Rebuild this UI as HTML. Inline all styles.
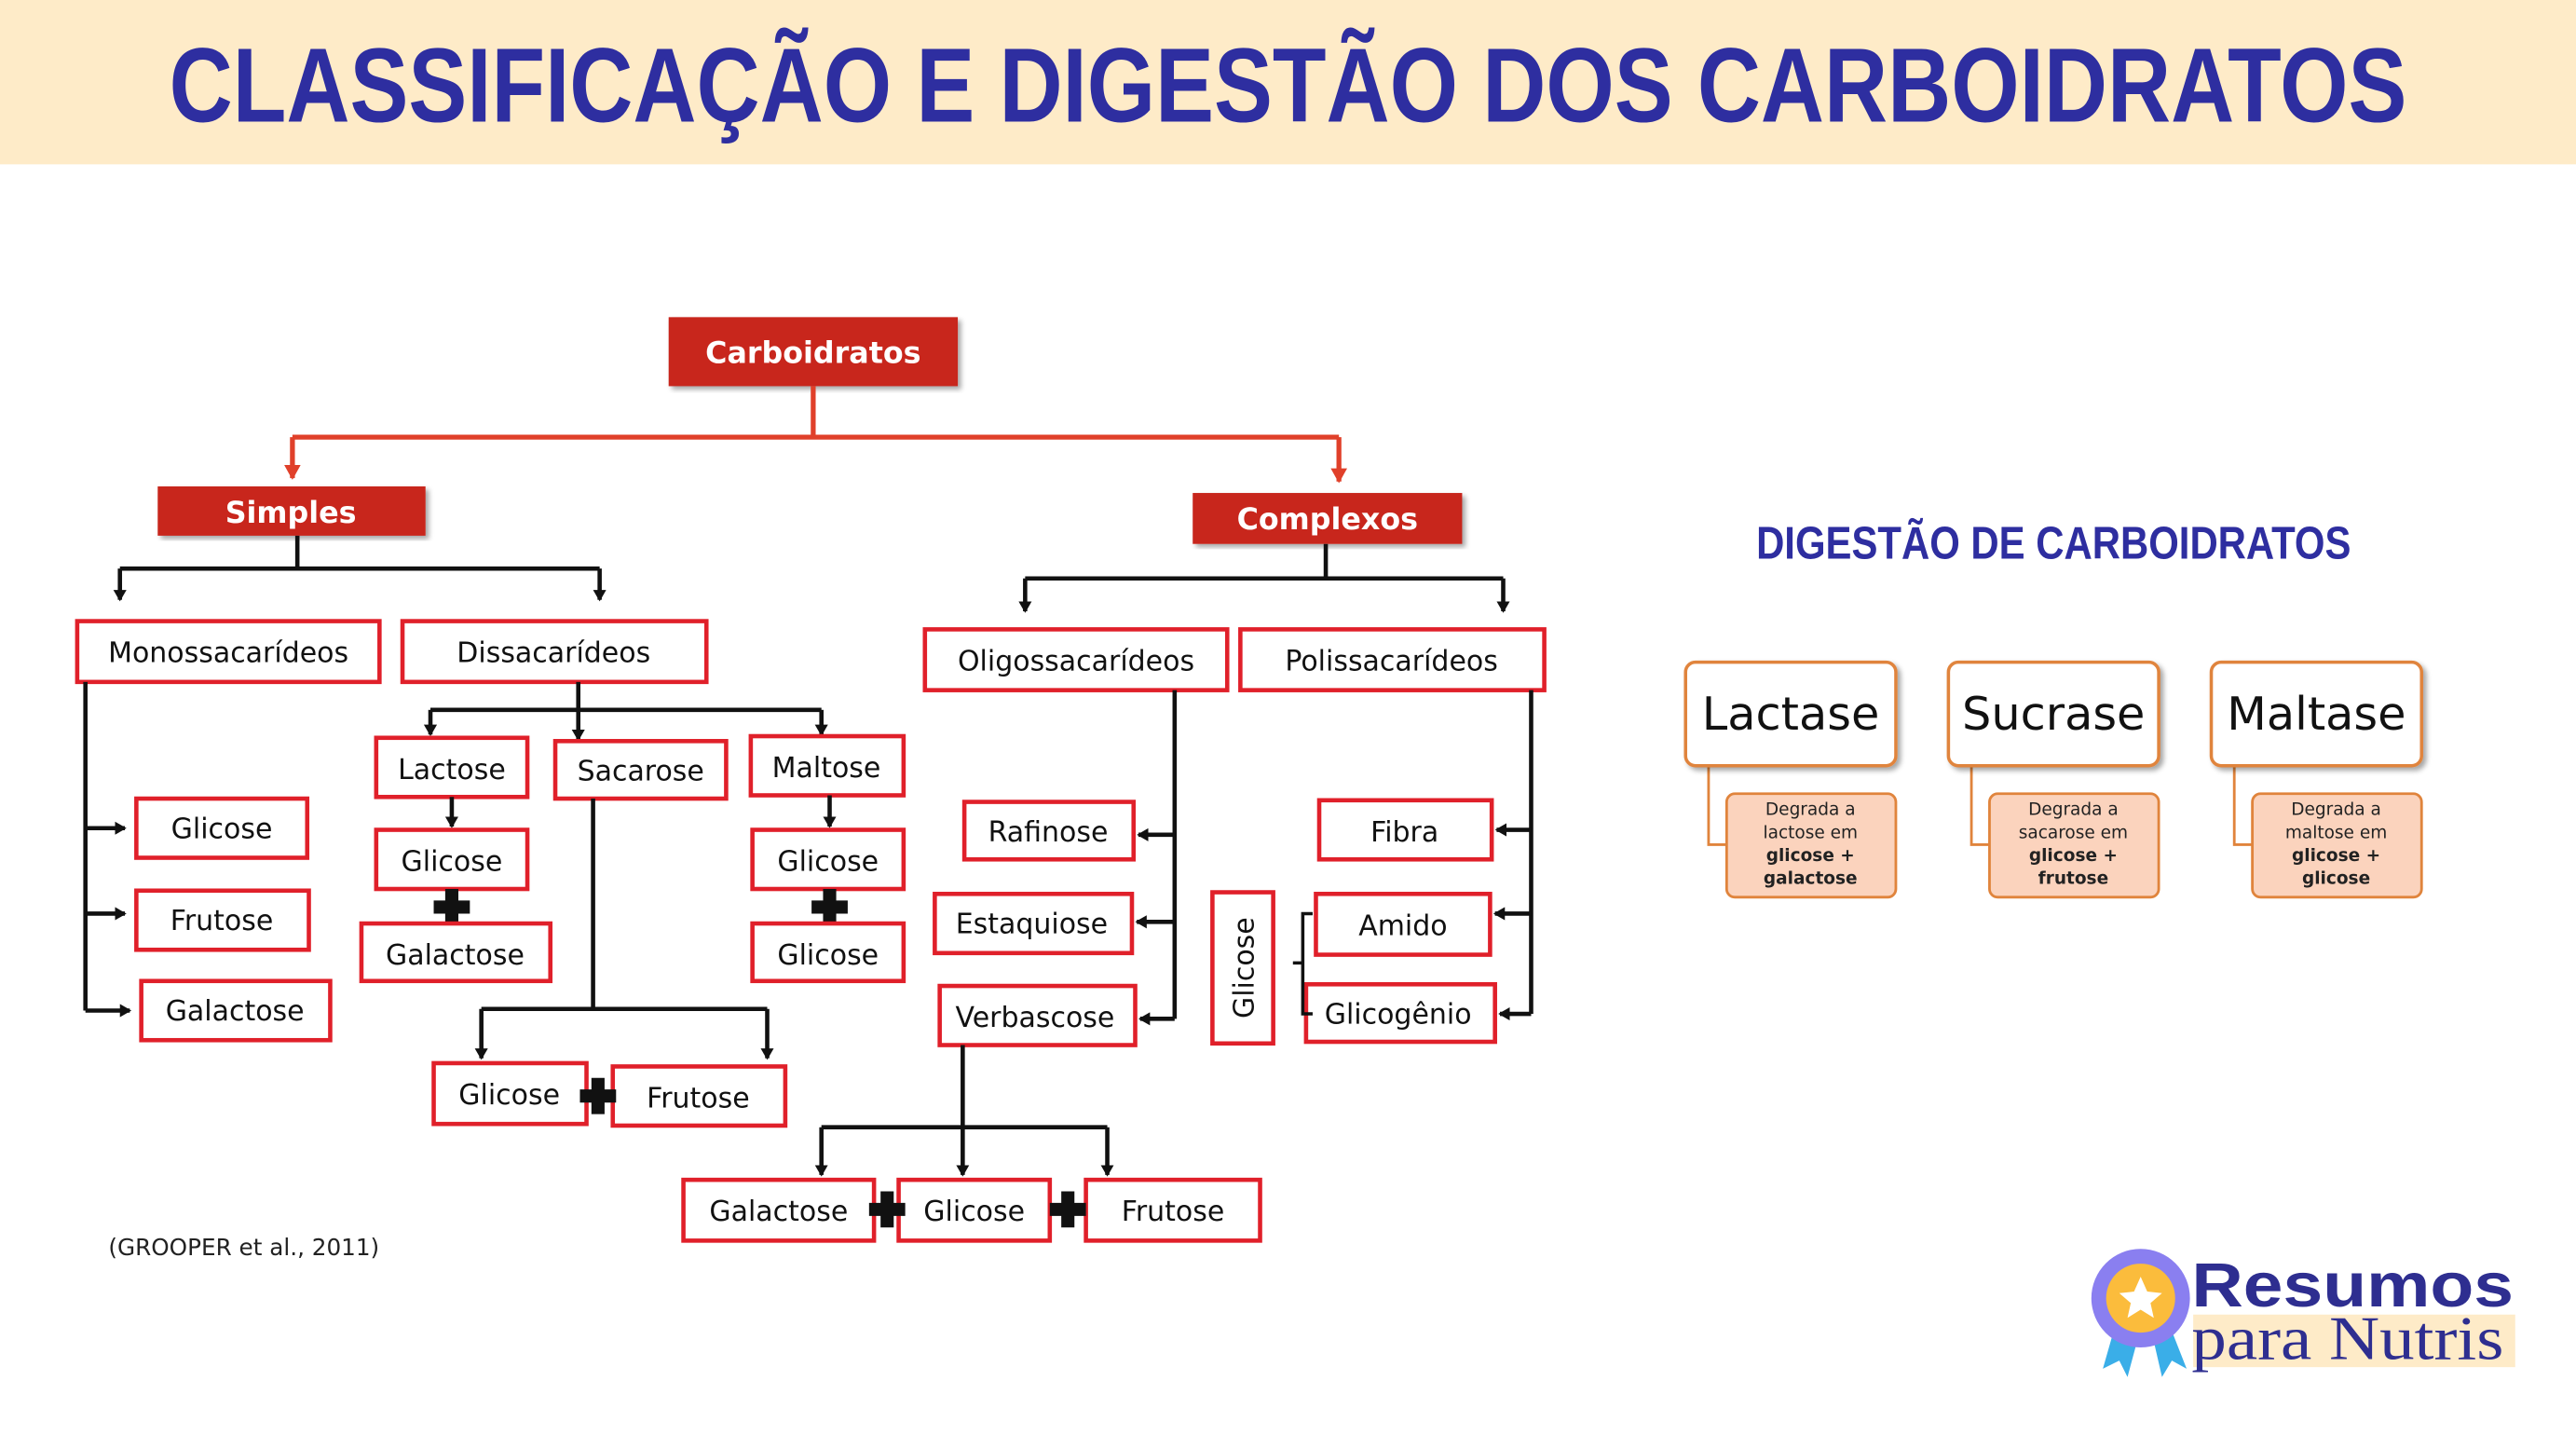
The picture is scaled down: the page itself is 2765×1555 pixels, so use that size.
<!DOCTYPE html>
<html><head><meta charset="utf-8"><style>
html,body{margin:0;padding:0;background:#fff;width:2765px;height:1555px;overflow:hidden}
svg{display:block}
.b{fill:#fff;stroke:#e0202a;stroke-width:2.6}
.t{font-family:"DejaVu Sans","Liberation Sans",sans-serif;font-size:17px;fill:#111;text-anchor:middle}
.r{fill:#c8281e}
.rt{font-family:"DejaVu Sans","Liberation Sans",sans-serif;font-size:18px;font-weight:bold;fill:#fff;text-anchor:middle}
.k{stroke:#111;stroke-width:2.6;fill:none}
.e{fill:#fff;stroke:#e0843c;stroke-width:2}
.s{fill:#fbd3bd;stroke:#e0843c;stroke-width:1.6}
.et{font-family:"DejaVu Sans","Liberation Sans",sans-serif;font-size:28px;fill:#111;text-anchor:middle}
.st{font-family:"DejaVu Sans","Liberation Sans",sans-serif;font-size:10.5px;fill:#222;text-anchor:middle}
.sb{font-weight:bold}
</style></head><body>
<svg width="2765" height="1555" viewBox="0 0 1568 881.8" xmlns="http://www.w3.org/2000/svg">
<defs>
<marker id="a" markerWidth="8" markerHeight="8" refX="6" refY="4" orient="auto" markerUnits="userSpaceOnUse"><path d="M0,0 L7,4 L0,8 Z" fill="#111"/></marker>
<marker id="ar" markerWidth="10" markerHeight="10" refX="8" refY="5" orient="auto" markerUnits="userSpaceOnUse"><path d="M0,0 L9,5 L0,10 Z" fill="#e0402a"/></marker>
<filter id="sh"><feDropShadow dx="2" dy="2" stdDeviation="1.5" flood-opacity="0.35"/></filter>
</defs>
<rect x="0" y="0" width="1568" height="100" fill="#feebc8"/>
<text x="784" y="74" font-family="'Liberation Sans Narrow','Liberation Sans',sans-serif" font-weight="bold" font-size="64" fill="#2e2ea0" text-anchor="middle" textLength="1362" lengthAdjust="spacingAndGlyphs">CLASSIFICAÇÃO E DIGESTÃO DOS CARBOIDRATOS</text>

<!-- red top -->
<rect class="r" x="407" y="193" width="176" height="42" filter="url(#sh)"/>
<text class="rt" x="495" y="221">Carboidratos</text>
<path d="M495,235 V266 M178,266 H815" stroke="#e0402a" stroke-width="3" fill="none"/>
<path d="M178,266 V291" stroke="#e0402a" stroke-width="3" marker-end="url(#ar)"/>
<path d="M815,266 V293" stroke="#e0402a" stroke-width="3" marker-end="url(#ar)"/>
<rect class="r" x="96" y="296" width="163" height="30" filter="url(#sh)"/>
<text class="rt" x="177" y="318">Simples</text>
<rect class="r" x="726" y="300" width="164" height="31" filter="url(#sh)"/>
<text class="rt" x="808" y="322">Complexos</text>

<!-- simples branch -->
<path class="k" d="M181,326 V346 M73,346 H365"/>
<path class="k" d="M73,346 V365" marker-end="url(#a)"/>
<path class="k" d="M365,346 V365" marker-end="url(#a)"/>
<rect class="b" x="47" y="378" width="184" height="37"/><text class="t" x="139" y="403">Monossacarídeos</text>
<rect class="b" x="245" y="378" width="185" height="37"/><text class="t" x="337" y="403">Dissacarídeos</text>

<path class="k" d="M52,415 V615"/>
<path class="k" d="M52,504 H76" marker-end="url(#a)"/>
<path class="k" d="M52,556 H76" marker-end="url(#a)"/>
<path class="k" d="M52,615 H79" marker-end="url(#a)"/>
<rect class="b" x="83" y="486" width="104" height="36"/><text class="t" x="135" y="510">Glicose</text>
<rect class="b" x="83" y="542" width="105" height="36"/><text class="t" x="135" y="566">Frutose</text>
<rect class="b" x="86" y="597" width="115" height="36"/><text class="t" x="143" y="621">Galactose</text>

<path class="k" d="M352,415 V432 M262,432 H500"/>
<path class="k" d="M262,432 V447" marker-end="url(#a)"/>
<path class="k" d="M352,432 V450" marker-end="url(#a)"/>
<path class="k" d="M500,432 V447" marker-end="url(#a)"/>
<rect class="b" x="229" y="449" width="92" height="36"/><text class="t" x="275" y="474">Lactose</text>
<rect class="b" x="338" y="451" width="104" height="35"/><text class="t" x="390" y="475">Sacarose</text>
<rect class="b" x="457" y="448" width="93" height="36"/><text class="t" x="503" y="473">Maltose</text>

<path class="k" d="M275,485 V503" marker-end="url(#a)"/>
<rect class="b" x="229" y="505" width="92" height="36"/><text class="t" x="275" y="530">Glicose</text>
<path d="M275,541 V563 M264,552 H286" stroke="#111" stroke-width="8"/>
<rect class="b" x="220" y="562" width="115" height="35"/><text class="t" x="277" y="587">Galactose</text>

<path class="k" d="M505,484 V503" marker-end="url(#a)"/>
<rect class="b" x="458" y="505" width="92" height="36"/><text class="t" x="504" y="530">Glicose</text>
<path d="M505,541 V563 M494,552 H516" stroke="#111" stroke-width="8"/>
<rect class="b" x="458" y="562" width="92" height="35"/><text class="t" x="504" y="587">Glicose</text>

<path class="k" d="M361,486 V614 M293,614 H467"/>
<path class="k" d="M293,614 V644" marker-end="url(#a)"/>
<path class="k" d="M467,614 V644" marker-end="url(#a)"/>
<rect class="b" x="264" y="647" width="93" height="37"/><text class="t" x="310" y="672">Glicose</text>
<rect class="b" x="373" y="649" width="105" height="36"/><text class="t" x="425" y="674">Frutose</text>
<path d="M364,656 V678 M353,667 H375" stroke="#111" stroke-width="8"/>

<!-- complexos -->
<path class="k" d="M807,331 V352 M624,352 H915"/>
<path class="k" d="M624,352 V372" marker-end="url(#a)"/>
<path class="k" d="M915,352 V372" marker-end="url(#a)"/>
<rect class="b" x="563" y="383" width="184" height="37"/><text class="t" x="655" y="408">Oligossacarídeos</text>
<rect class="b" x="755" y="383" width="185" height="37"/><text class="t" x="847" y="408">Polissacarídeos</text>

<path class="k" d="M715,420 V620"/>
<path class="k" d="M715,508 H693" marker-end="url(#a)"/>
<path class="k" d="M715,561 H692" marker-end="url(#a)"/>
<path class="k" d="M715,620 H694" marker-end="url(#a)"/>
<rect class="b" x="587" y="488" width="103" height="35"/><text class="t" x="638" y="512">Rafinose</text>
<rect class="b" x="569" y="544" width="120" height="36"/><text class="t" x="628" y="568">Estaquiose</text>
<rect class="b" x="572" y="600" width="119" height="36"/><text class="t" x="630" y="625">Verbascose</text>

<path class="k" d="M932,420 V617"/>
<path class="k" d="M932,505 H911" marker-end="url(#a)"/>
<path class="k" d="M932,556 H910" marker-end="url(#a)"/>
<path class="k" d="M932,617 H913" marker-end="url(#a)"/>
<rect class="b" x="803" y="487" width="105" height="36"/><text class="t" x="855" y="512">Fibra</text>
<rect class="b" x="801" y="544" width="106" height="37"/><text class="t" x="854" y="569">Amido</text>
<rect class="b" x="795" y="599" width="115" height="35"/><text class="t" x="851" y="623">Glicogênio</text>
<rect class="b" x="738" y="543" width="37" height="92"/>
<text class="t" transform="translate(763,589) rotate(-90)">Glicose</text>
<path d="M799,556 H793 V617 H799 M793,586 H787" stroke="#111" stroke-width="2" fill="none"/>

<path class="k" d="M586,636 V686 M500,686 H674"/>
<path class="k" d="M500,686 V715" marker-end="url(#a)"/>
<path class="k" d="M586,686 V715" marker-end="url(#a)"/>
<path class="k" d="M674,686 V715" marker-end="url(#a)"/>
<rect class="b" x="416" y="718" width="116" height="37"/><text class="t" x="474" y="743">Galactose</text>
<rect class="b" x="547" y="718" width="92" height="37"/><text class="t" x="593" y="743">Glicose</text>
<rect class="b" x="661" y="718" width="106" height="37"/><text class="t" x="714" y="743">Frutose</text>
<path d="M540,725 V747 M529,736 H551" stroke="#111" stroke-width="8"/>
<path d="M650,725 V747 M639,736 H661" stroke="#111" stroke-width="8"/>

<text x="66" y="764" font-family="'DejaVu Sans','Liberation Sans',sans-serif" font-size="14" fill="#222">(GROOPER et al., 2011)</text>

<!-- digestão -->
<text x="1250" y="340" font-family="'Liberation Sans Narrow','Liberation Sans',sans-serif" font-weight="bold" font-size="28" fill="#2e2ea0" text-anchor="middle" textLength="362" lengthAdjust="spacingAndGlyphs">DIGESTÃO DE CARBOIDRATOS</text>

<g>
<path d="M1040,466 V514 H1051" stroke="#e0843c" stroke-width="1.6" fill="none"/>
<rect class="e" x="1026" y="403" width="128" height="63" rx="6" filter="url(#sh)"/>
<text class="et" x="1090" y="444">Lactase</text>
<rect class="s" x="1051" y="483" width="103" height="63" rx="5"/>
<text class="st" x="1102" y="496">Degrada a</text><text class="st" x="1102" y="510">lactose em</text>
<text class="st sb" x="1102" y="524">glicose +</text><text class="st sb" x="1102" y="538">galactose</text>
</g>
<g>
<path d="M1200,466 V514 H1211" stroke="#e0843c" stroke-width="1.6" fill="none"/>
<rect class="e" x="1186" y="403" width="128" height="63" rx="6" filter="url(#sh)"/>
<text class="et" x="1250" y="444">Sucrase</text>
<rect class="s" x="1211" y="483" width="103" height="63" rx="5"/>
<text class="st" x="1262" y="496">Degrada a</text><text class="st" x="1262" y="510">sacarose em</text>
<text class="st sb" x="1262" y="524">glicose +</text><text class="st sb" x="1262" y="538">frutose</text>
</g>
<g>
<path d="M1360,466 V514 H1371" stroke="#e0843c" stroke-width="1.6" fill="none"/>
<rect class="e" x="1346" y="403" width="128" height="63" rx="6" filter="url(#sh)"/>
<text class="et" x="1410" y="444">Maltase</text>
<rect class="s" x="1371" y="483" width="103" height="63" rx="5"/>
<text class="st" x="1422" y="496">Degrada a</text><text class="st" x="1422" y="510">maltose em</text>
<text class="st sb" x="1422" y="524">glicose +</text><text class="st sb" x="1422" y="538">glicose</text>
</g>

<!-- logo -->
<rect x="1335" y="800" width="196" height="32" fill="#feebc8"/>
<path d="M1288,805 L1280,833 L1290,828 L1295,838 L1302,812 Z M1310,812 L1316,838 L1322,828 L1331,833 L1320,805 Z" fill="#3aaee8"/>
<circle cx="1303" cy="790" r="30" fill="#8a7ff0"/>
<circle cx="1303" cy="790" r="21" fill="#fbbc3c"/>
<path d="M1303,777 L1307,786 L1316,787 L1309,793 L1311,802 L1303,797 L1295,802 L1297,793 L1290,787 L1299,786 Z" fill="#fff"/>
<text x="1334" y="795" font-family="'Liberation Sans',sans-serif" font-weight="bold" font-size="38" fill="#2e2e90" textLength="196" lengthAdjust="spacingAndGlyphs">Resumos</text>
<text x="1334" y="827" font-family="'Liberation Serif',serif" font-size="38" fill="#2e2e90" textLength="190" lengthAdjust="spacingAndGlyphs">para Nutris</text>
</svg>
</body></html>
